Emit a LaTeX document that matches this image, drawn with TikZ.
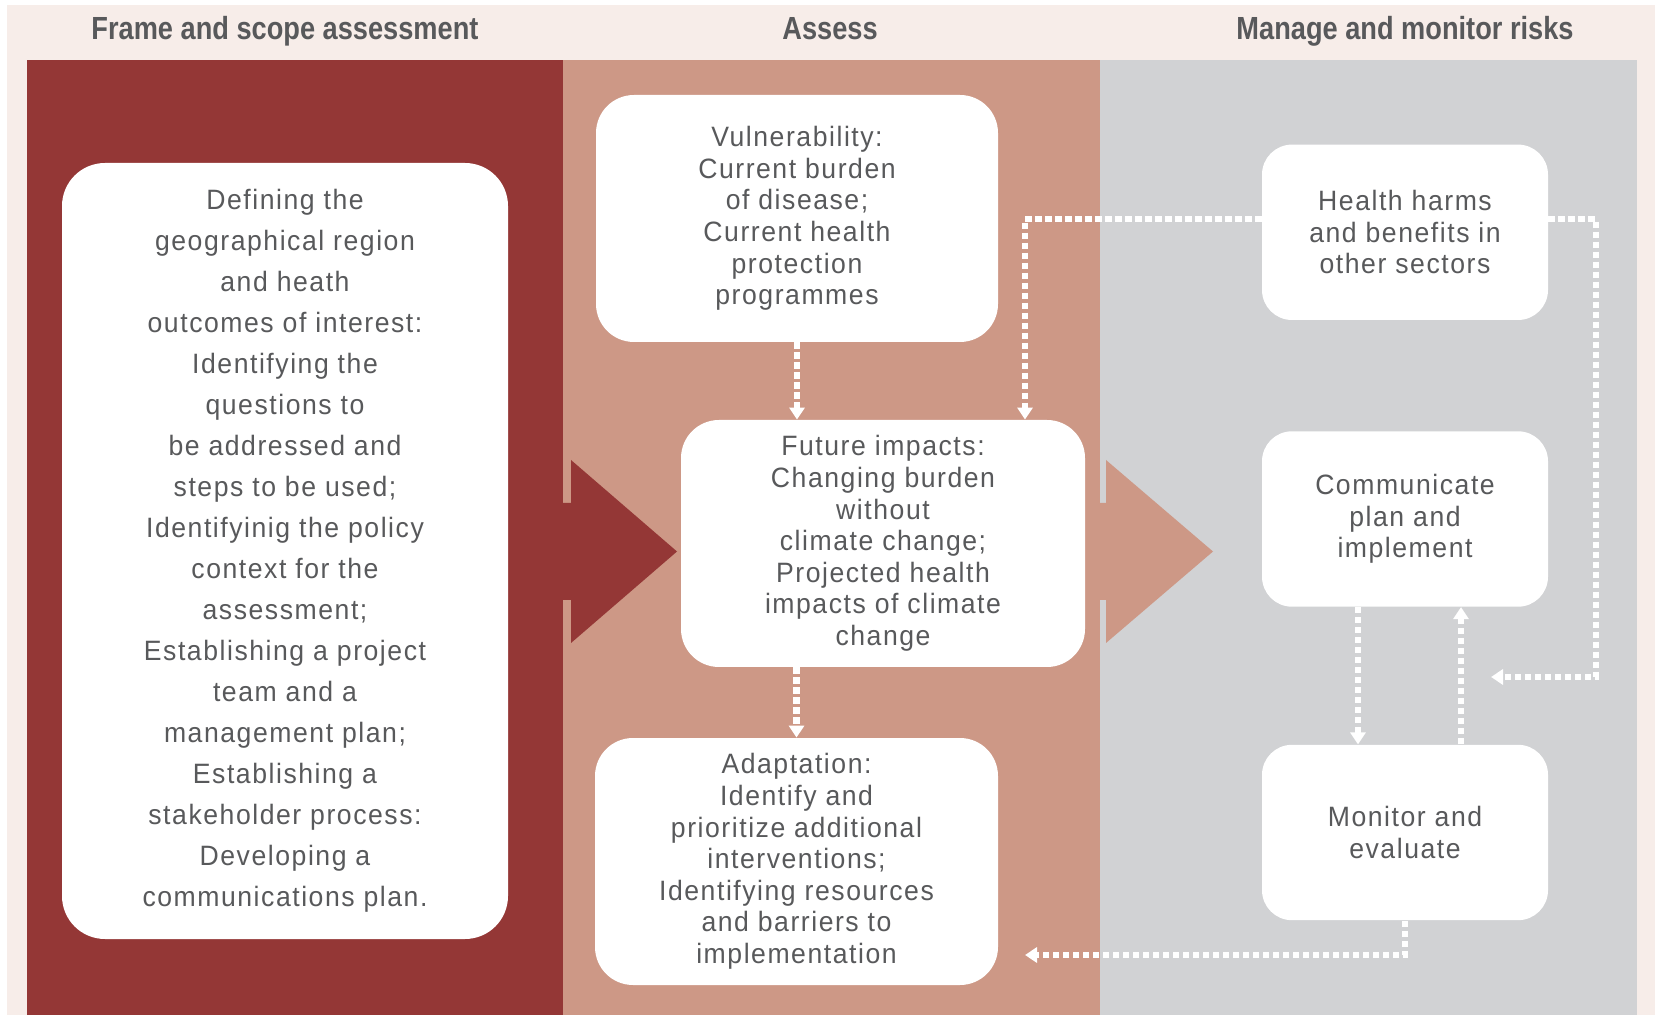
\documentclass[tikz,border=0pt]{standalone}
\usepackage{fontspec}
\setmainfont{Liberation Sans}[FakeStretch=0.95,LetterSpace=5.5]
\newfontfamily\headfont{Liberation Sans}[FakeStretch=0.85]
\usepackage{xcolor}
\usetikzlibrary{arrows.meta}
\definecolor{mygray}{HTML}{58595B}
\definecolor{framered}{HTML}{943736}
\definecolor{assesspink}{HTML}{CD9886}
\definecolor{managegray}{HTML}{D1D2D4}
\definecolor{paper}{HTML}{F7EDE9}
\tikzset{every text node part/.style={align=center}}
\tikzstyle{block} = [fill=white, text=mygray, inner sep=0pt, rounded corners=19pt, font={\fontsize{14}{15.8}\selectfont}]
\tikzstyle{head} = [text=mygray, anchor=base, font={\headfont\bfseries\fontsize{16}{18}\selectfont}]
\tikzstyle{ln} = [draw=white, line width=3.2pt, dash pattern=on 3.2pt off 1.8pt, -{Triangle[length=6pt,width=7.5pt]}]

\begin{document}
\begin{tikzpicture}[x=0.5pt, y=-0.5pt]
  \useasboundingbox (0,0) rectangle (1655,1015);
  % page and the three columns
  \fill[paper] (7,5) rectangle (1655,1015);
  \fill[framered] (27,60) rectangle (563,1015);
  \fill[assesspink] (563,60) rectangle (1100,1015);
  \fill[managegray] (1100,60) rectangle (1637,1015);
  % big arrows from one column into the next
  \fill[framered] (555,503) -- (571,503) -- (571,460) -- (677,551.5) -- (571,643) -- (571,600) -- (555,600) -- cycle;
  \fill[assesspink] (1092,503) -- (1106,503) -- (1106,460) -- (1213,551.5) -- (1106,643) -- (1106,600) -- (1092,600) -- cycle;

  \node[head] (head-1) at (285,40) {Frame and scope assessment};
  \node[head] (head-2) at (830,40) {Assess};
  \node[head] (head-3) at (1405,40) {Manage and monitor risks};

  \node[block, minimum width=223pt, minimum height=388pt, rounded corners=21.5pt, font={\fontsize{14}{20.5}\selectfont}] (scope) at (285,551) {Defining the\\ geographical region\\ and heath\\ outcomes of interest:\\ Identifying the\\ questions to\\ be addressed and\\ steps to be used;\\ Identifyinig the policy\\ context for the\\ assessment;\\ Establishing a project\\ team and a\\ management plan;\\ Establishing a\\ stakeholder process:\\ Developing a\\ communications plan.};
  \node[block, minimum width=201pt, minimum height=123.5pt] (vuln) at (797,218.5) {Vulnerability:\\ Current burden\\ of disease;\\ Current health\\ protection\\ programmes};
  \node[block, minimum width=202pt, minimum height=123.5pt] (future) at (883,543.5) {Future impacts:\\ Changing burden\\ without\\ climate change;\\ Projected health\\ impacts of climate\\ change};
  \node[block, minimum width=201.5pt, minimum height=123.5pt] (adapt) at (796.5,861.5) {Adaptation:\\ Identify and\\ prioritize additional\\ interventions;\\ Identifying resources\\ and barriers to\\ implementation};
  \node[block, minimum width=143pt, minimum height=87.7pt, rounded corners=15pt] (harms) at (1405,232.3) {Health harms\\ and benefits in\\ other sectors};
  \node[block, minimum width=143pt, minimum height=87.7pt, rounded corners=15pt] (comm) at (1405,519) {Communicate\\ plan and\\ implement};
  \node[block, minimum width=143pt, minimum height=87.7pt, rounded corners=15pt] (monitor) at (1405,832.5) {Monitor and\\ evaluate};

  % loose ends of the feedback lines
  \coordinate (loop-turn) at (1596,677);
  \coordinate (loop-end) at (1491,677);
  \coordinate (adapt-in) at (1025,955);

  \path[ln] (vuln.south) -- (vuln.south |- future.north);
  \path[ln] (future.south -| adapt.north) -- (adapt.north);
  \path[ln] ([yshift=6.5pt]harms.west) -| ([xshift=71pt]future.north);
  \path[ln] ([yshift=6.5pt]harms.east) -| (loop-turn) -- (loop-end);
  \path[ln] ([xshift=-23.5pt]comm.south) -- ([xshift=-23.5pt]monitor.north);
  \path[ln] ([xshift=28pt]monitor.north) -- ([xshift=28pt]comm.south);
  \path[ln] (monitor.south) |- (adapt-in);
\end{tikzpicture}
\end{document}
